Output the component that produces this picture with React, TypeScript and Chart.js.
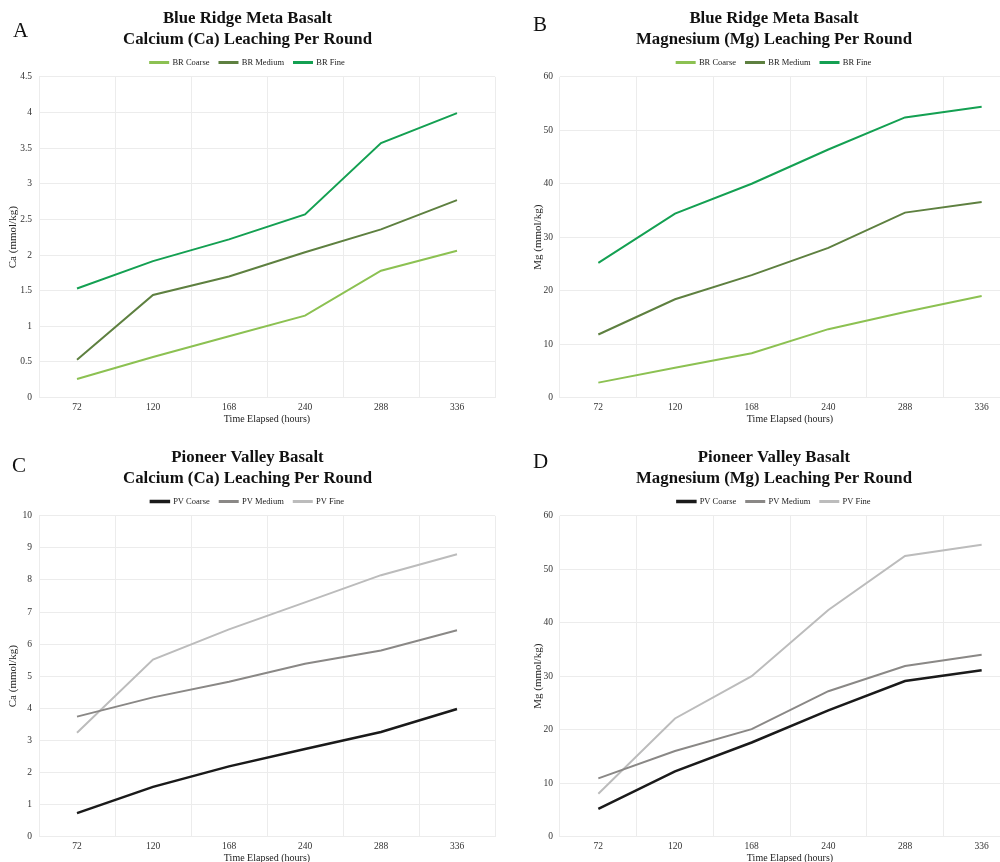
import React, { useEffect, useRef } from "react";
import { Chart, registerables } from "chart.js";

Chart.register(...registerables);

const FONT = '"Liberation Serif", "Times New Roman", Times, serif';

// ---------- data ----------
const hours = ["72", "120", "168", "240", "288", "336"];

const brLabels = ["BR Coarse", "BR Medium", "BR Fine"];
const pvLabels = ["PV Coarse", "PV Medium", "PV Fine"];

const brCaCoarse = [0.26, 0.57, 0.86, 1.15, 1.78, 2.06];
const brCaMedium = [0.53, 1.44, 1.7, 2.04, 2.36, 2.77];
const brCaFine = [1.53, 1.915, 2.22, 2.57, 3.57, 3.99];

const brMgCoarse = [2.8, 5.6, 8.3, 12.8, 16.0, 19.0];
const brMgMedium = [11.8, 18.4, 22.9, 28.0, 34.6, 36.6];
const brMgFine = [25.2, 34.4, 40.0, 46.4, 52.4, 54.4];

const pvCaCoarse = [0.73, 1.55, 2.19, 2.73, 3.26, 3.98];
const pvCaMedium = [3.74, 4.34, 4.83, 5.39, 5.8, 6.43];
const pvCaFine = [3.24, 5.52, 6.46, 7.3, 8.15, 8.8];

const pvMgCoarse = [5.2, 12.2, 17.6, 23.6, 29.1, 31.1];
const pvMgMedium = [10.9, 16.0, 20.1, 27.2, 31.9, 34.0];
const pvMgFine = [8.0, 22.1, 30.0, 42.4, 52.5, 54.6];

const ticksBrCa = [0, 0.5, 1, 1.5, 2, 2.5, 3, 3.5, 4, 4.5];
const ticksBrMg = [0, 10, 20, 30, 40, 50, 60];
const ticksPvCa = [0, 1, 2, 3, 4, 5, 6, 7, 8, 9, 10];
const ticksPvMg = [0, 10, 20, 30, 40, 50, 60];

const brColors = ["#8cc152", "#5e8040", "#14a052"];
const pvColors = ["#1a1a1a", "#8a8886", "#bcbcbc"];

// ---------- chart panel ----------
type PanelProps = {
  left: number;
  top: number;
  width: number;
  height: number;
  title: string[];
  yTitle: string;
  labels: string[];
  series: number[][];
  colors: string[];
  widths: number[];
  ticks: number[];
  yAxisWidth: number;
  yTitlePad: number;
  padRight: number;
};

function Panel(p: PanelProps) {
  const ref = useRef<HTMLCanvasElement | null>(null);
  useEffect(() => {
    if (!ref.current) return;
    const grid = "#ececec";
    const chart = new Chart(ref.current, {
      type: "line",
      data: {
        labels: hours,
        datasets: p.series.map((d, i) => ({
          label: p.labels[i],
          data: d,
          borderColor: p.colors[i],
          backgroundColor: p.colors[i],
          borderWidth: p.widths[i],
          pointRadius: 0,
          tension: 0,
          fill: false,
        })),
      },
      options: {
        responsive: false,
        animation: false,
        devicePixelRatio: 1,
        layout: { padding: { left: 0, right: p.padRight, top: 0, bottom: 0 } },
        plugins: {
          title: {
            display: true,
            text: p.title,
            color: "#111",
            font: { family: FONT, size: 16.8, weight: "bold", lineHeight: 1.2 },
            padding: { top: 9, bottom: -1 },
          },
          legend: {
            display: true,
            position: "top",
            labels: {
              boxWidth: 18,
              boxHeight: 1,
              padding: 10,
              color: "#222",
              font: { family: FONT, size: 8.5 },
            },
          },
          tooltip: { enabled: false },
        },
        scales: {
          x: {
            type: "category",
            offset: true,
            grid: { offset: true, color: grid, drawTicks: false },
            border: { display: false },
            ticks: {
              color: "#333",
              font: { family: FONT, size: 9.5 },
              padding: 4,
              maxRotation: 0,
              autoSkip: false,
            },
            title: {
              display: true,
              text: "Time Elapsed (hours)",
              color: "#222",
              font: { family: FONT, size: 10 },
              padding: { top: -4, bottom: 5 },
            },
          },
          y: {
            min: p.ticks[0],
            max: p.ticks[p.ticks.length - 1],
            grid: { color: grid, drawTicks: false },
            border: { display: false },
            ticks: {
              stepSize: p.ticks[1] - p.ticks[0],
              color: "#333",
              font: { family: FONT, size: 9.5 },
              padding: 7,
              callback: (v: any) => String(v),
            },
            title: {
              display: true,
              text: p.yTitle,
              color: "#222",
              font: { family: FONT, size: 11 },
              padding: { top: p.yTitlePad, bottom: 0 },
            },
            afterFit: (s: any) => {
              s.width = p.yAxisWidth;
            },
          },
        },
      } as any,
    });
    return () => chart.destroy();
  }, []);
  return (
    <canvas
      ref={ref}
      width={p.width}
      height={p.height}
      style={{ position: "absolute", left: p.left, top: p.top, width: p.width, height: p.height }}
    />
  );
}

const letterStyle = (left: number, top: number): React.CSSProperties => ({
  position: "absolute",
  left,
  top,
  fontFamily: FONT,
  fontSize: 21,
  lineHeight: "21px",
  color: "#111",
});

export default function App() {
  return (
    <div
      style={{
        position: "fixed",
        left: 0,
        top: 0,
        width: 1000,
        height: 862,
        overflow: "hidden",
        background: "#fff",
      }}
    >
      <Panel
        left={0}
        top={0}
        width={502}
        height={430}
        title={["Blue Ridge Meta Basalt", "Calcium (Ca) Leaching Per Round"]}
        yTitle="Ca (mmol/kg)"
        labels={brLabels}
        series={[brCaCoarse, brCaMedium, brCaFine]}
        colors={brColors}
        widths={[2, 2, 2]}
        ticks={ticksBrCa}
        yAxisWidth={39}
        yTitlePad={6.4}
        padRight={7}
      />
      <Panel
        left={528}
        top={0}
        width={492}
        height={430}
        title={["Blue Ridge Meta Basalt", "Magnesium (Mg) Leaching Per Round"]}
        yTitle="Mg (mmol/kg)"
        labels={brLabels}
        series={[brMgCoarse, brMgMedium, brMgFine]}
        colors={brColors}
        widths={[2, 2, 2]}
        ticks={ticksBrMg}
        yAxisWidth={32}
        yTitlePad={3.4}
        padRight={0}
      />
      <Panel
        left={0}
        top={439}
        width={502}
        height={430}
        title={["Pioneer Valley Basalt", "Calcium (Ca) Leaching Per Round"]}
        yTitle="Ca (mmol/kg)"
        labels={pvLabels}
        series={[pvCaCoarse, pvCaMedium, pvCaFine]}
        colors={pvColors}
        widths={[2.5, 2, 2]}
        ticks={ticksPvCa}
        yAxisWidth={39}
        yTitlePad={6.4}
        padRight={7}
      />
      <Panel
        left={528}
        top={439}
        width={492}
        height={430}
        title={["Pioneer Valley Basalt", "Magnesium (Mg) Leaching Per Round"]}
        yTitle="Mg (mmol/kg)"
        labels={pvLabels}
        series={[pvMgCoarse, pvMgMedium, pvMgFine]}
        colors={pvColors}
        widths={[2.5, 2, 2]}
        ticks={ticksPvMg}
        yAxisWidth={32}
        yTitlePad={3.4}
        padRight={0}
      />
      <div style={letterStyle(13, 20)}>A</div>
      <div style={letterStyle(533, 14)}>B</div>
      <div style={letterStyle(12, 455)}>C</div>
      <div style={letterStyle(533, 451)}>D</div>
    </div>
  );
}
